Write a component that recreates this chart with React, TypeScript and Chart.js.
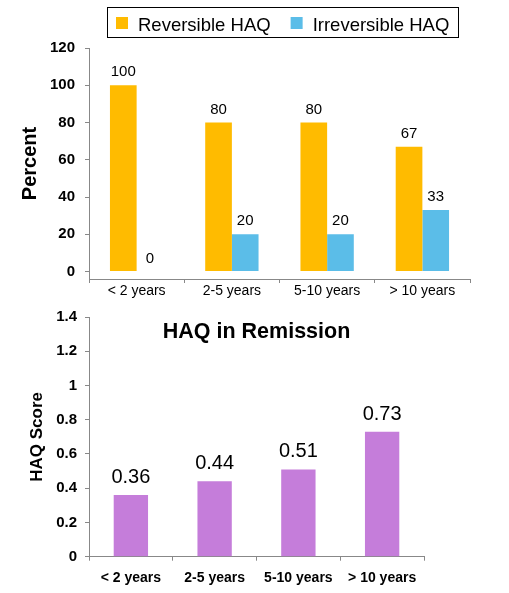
import React, { useEffect, useRef } from "react";
import { Chart, registerables } from "chart.js";

Chart.register(...registerables);

const categories = ["< 2 years", "2-5 years", "5-10 years", "> 10 years"];
const seriesNames = ["Reversible HAQ", "Irreversible HAQ"];
const reversibleHAQ = [100, 80, 80, 67];
const irreversibleHAQ = [0, 20, 20, 33];
const percentTicks = [0, 20, 40, 60, 80, 100, 120];

const remissionTitle = "HAQ in Remission";
const haqRemission = [0.36, 0.44, 0.51, 0.73];
const scoreTicks = [0, 0.2, 0.4, 0.6, 0.8, 1, 1.2, 1.4];

const FONT = "'Liberation Sans', Arial, sans-serif";
const AXIS = "#888888";
const ORANGE = "#FFBB00";
const BLUE = "#5BBDE8";
const PURPLE = "#C57DDA";

const valueLabels = (size: number, gap: number, fmt: (v: number) => string) => ({
  id: "valueLabels",
  afterDatasetsDraw(chart: any) {
    const ctx = chart.ctx;
    ctx.save();
    ctx.font = `${size}px ${FONT}`;
    ctx.fillStyle = "#000";
    ctx.textAlign = "center";
    ctx.textBaseline = "alphabetic";
    chart.data.datasets.forEach((ds: any, i: number) => {
      const meta = chart.getDatasetMeta(i);
      meta.data.forEach((el: any, j: number) => {
        ctx.fillText(fmt(ds.data[j]), el.x, el.y - gap);
      });
    });
    ctx.restore();
  },
});

const boxedLegend = {
  id: "boxedLegend",
  afterDraw(chart: any) {
    const ctx = chart.ctx;
    const { left, right } = chart.chartArea;
    ctx.save();
    ctx.font = `18.5px ${FONT}`;
    const sw = 12, gapT = 10, gapI = 20, padX = 9;
    const items = chart.data.datasets.map((ds: any) => ({
      label: ds.label,
      color: ds.backgroundColor,
      w: ctx.measureText(ds.label).width,
    }));
    const total =
      padX * 2 +
      items.reduce((s: number, it: any) => s + sw + gapT + it.w, 0) +
      gapI * (items.length - 1);
    const cx = (left + right) / 2 + 3;
    let x = Math.round(cx - total / 2);
    const top = 7, h = 30;
    ctx.strokeStyle = "#000";
    ctx.lineWidth = 1;
    ctx.strokeRect(x + 0.5, top + 0.5, Math.round(total), h);
    x += padX;
    items.forEach((it: any) => {
      ctx.fillStyle = it.color;
      ctx.fillRect(x, top + 10, sw, sw);
      ctx.fillStyle = "#000";
      ctx.textAlign = "left";
      ctx.textBaseline = "alphabetic";
      ctx.fillText(it.label, x + sw + gapT, top + 23.5);
      x += sw + gapT + it.w + gapI;
    });
    ctx.restore();
  },
};

const innerTitle = {
  id: "innerTitle",
  afterDraw(chart: any) {
    const ctx = chart.ctx;
    const { left, right, top } = chart.chartArea;
    ctx.save();
    ctx.font = `bold 21.5px ${FONT}`;
    ctx.fillStyle = "#000";
    ctx.textAlign = "center";
    ctx.textBaseline = "alphabetic";
    ctx.fillText(remissionTitle, (left + right) / 2, top + 20.7);
    ctx.restore();
  },
};

const axisGrid = {
  display: true,
  drawOnChartArea: false,
  drawTicks: true,
  tickLength: 4,
  color: AXIS,
};

export default function App() {
  const topRef = useRef<HTMLCanvasElement>(null);
  const botRef = useRef<HTMLCanvasElement>(null);

  useEffect(() => {
    const top = new Chart(topRef.current as HTMLCanvasElement, {
      type: "bar",
      data: {
        labels: categories,
        datasets: [
          { label: seriesNames[0], data: reversibleHAQ, backgroundColor: ORANGE, categoryPercentage: 0.56, barPercentage: 1 },
          { label: seriesNames[1], data: irreversibleHAQ, backgroundColor: BLUE, categoryPercentage: 0.56, barPercentage: 1 },
        ],
      },
      options: {
        responsive: false,
        animation: false,
        layout: { padding: { left: 0, right: 39, top: 48, bottom: 0 } },
        plugins: { legend: { display: false }, tooltip: { enabled: false }, title: { display: false } },
        scales: {
          x: {
            grid: { ...axisGrid, offset: true },
            border: { color: AXIS, width: 1 },
            ticks: { font: { family: FONT, size: 14 }, color: "#000", padding: 0, maxRotation: 0 },
            afterFit: (s: any) => { s.height = 21; },
          },
          y: {
            min: -4,
            max: 120,
            afterBuildTicks: (s: any) => { s.ticks = percentTicks.map((v) => ({ value: v })); },
            grid: axisGrid,
            border: { color: AXIS, width: 1 },
            ticks: { font: { family: FONT, size: 15, weight: "bold" }, color: "#000", padding: 10 },
            title: { display: true, text: "Percent", font: { family: FONT, size: 20, weight: "bold" }, color: "#000", padding: { top: 18, bottom: 0 } },
            afterFit: (s: any) => { s.width = 89; },
          },
        },
      } as any,
      plugins: [valueLabels(15, 9, (v) => String(v)), boxedLegend],
    });

    const bot = new Chart(botRef.current as HTMLCanvasElement, {
      type: "bar",
      data: {
        labels: categories,
        datasets: [
          { label: "HAQ Score", data: haqRemission, backgroundColor: PURPLE, categoryPercentage: 1, barPercentage: 0.41 },
        ],
      },
      options: {
        responsive: false,
        animation: false,
        layout: { padding: { left: 0, right: 85, top: 11, bottom: 0 } },
        plugins: { legend: { display: false }, tooltip: { enabled: false }, title: { display: false } },
        scales: {
          x: {
            grid: { ...axisGrid, offset: true },
            border: { color: AXIS, width: 1 },
            ticks: { font: { family: FONT, size: 14, weight: "bold" }, color: "#000", padding: 9, maxRotation: 0 },
            afterFit: (s: any) => { s.height = 36.3; },
          },
          y: {
            min: 0,
            max: 1.4,
            afterBuildTicks: (s: any) => { s.ticks = scoreTicks.map((v) => ({ value: v })); },
            grid: axisGrid,
            border: { color: AXIS, width: 1 },
            ticks: {
              font: { family: FONT, size: 15, weight: "bold" },
              color: "#000",
              padding: 8,
              callback: (v: any) => String(Number(Number(v).toFixed(1))),
            },
            title: { display: true, text: "HAQ Score", font: { family: FONT, size: 17, weight: "bold" }, color: "#000", padding: { top: 27, bottom: 0 } },
            afterFit: (s: any) => { s.width = 89; },
          },
        },
      } as any,
      plugins: [valueLabels(20, 12, (v) => String(v)), innerTitle],
    });

    return () => {
      top.destroy();
      bot.destroy();
    };
  }, []);

  return (
    <div style={{ position: "fixed", left: 0, top: 0, width: 509, height: 593, background: "#fff" }}>
      <canvas ref={topRef} width={509} height={300} style={{ position: "absolute", left: 0, top: 0, width: 509, height: 300 }} />
      <canvas ref={botRef} width={509} height={293} style={{ position: "absolute", left: 0, top: 300, width: 509, height: 293 }} />
    </div>
  );
}
